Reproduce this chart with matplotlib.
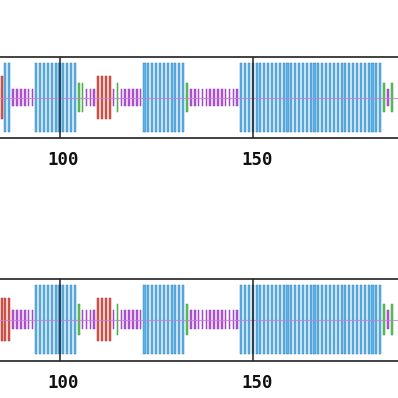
import matplotlib
matplotlib.use("Agg")
import matplotlib.pyplot as plt
import matplotlib.transforms as mtransforms

# residue numbers shown in the crop
residues = list(range(84, 187))

# secondary structure per residue (H helix, E strand, T turn, C coil)
ss_top = ("EE" "HH" "CCCCCC" "HHHHHHHHHHH" "TT" "CCC" "EEEE" "C" "T" "CCCCCC"
          "HHHHHHHHHHH" "T" "CCCCCCCCCCCCC" "HHHHHHHHHHHHHHHHHHHHHHHHHHHHHHHHHHHHH"
          "T" "C" "T")
ss_bottom = ("EEEE" "CCCCCC" "HHHHHHHHHHH" "T" "CCCC" "EEEE" "C" "T" "CCCCCC"
             "HHHHHHHHHHH" "T" "CCCCCCCCCCCCC" "HHHHHHHHHHHHHHHHHHHHHHHHHHHHHHHHHHHHH"
             "T" "C" "T")

tick_values = [100, 150]
tick_labels = ["100", "150"]

half_height = {"H": 0.84, "E": 0.53, "T": 0.37, "C": 0.22}
face = {"H": "#5cb3e6", "E": "#dc5548", "T": "#5cc45c", "C": "#b454d6"}
edge = {"H": "#3584c4", "E": "#b03a3a", "T": "#3c9a3c", "C": "#983cbc"}
width = {"H": 0.54, "E": 0.52, "T": 0.42, "C": 0.42}

W = H = 398
fig = plt.figure(figsize=(W / 100, H / 100), dpi=100)
fig.patch.set_facecolor("white")

x_left = 100 - 59.5 / 3.864
x_right = x_left + W / 3.864

panels = [(ss_top, 57, 138), (ss_bottom, 278.5, 360.5)]

for ss, ytop, ybot in panels:
    ax = fig.add_axes([0, 1 - ybot / H, 1, (ybot - ytop) / H])
    for t in "HETC":
        xs = [r for r, s in zip(residues, ss) if s == t]
        hh = half_height[t]
        ax.bar(xs, [2 * hh] * len(xs), bottom=-hh, width=width[t],
               color=face[t], edgecolor=edge[t], linewidth=0.35, zorder=2)
    ax.axhline(0, color="#c77ddd", lw=0.8, alpha=0.8, zorder=3)
    for v in tick_values:
        ax.axvline(v, color="#222222", lw=1.1, zorder=4)
    ax.set_xlim(x_left, x_right)
    ax.set_ylim(-1, 1)
    ax.set_xticks([])
    ax.set_yticks([])
    for s in ("left", "right"):
        ax.spines[s].set_visible(False)
    for s in ("top", "bottom"):
        ax.spines[s].set_color("#333333")
        ax.spines[s].set_linewidth(1.3)
    trans = mtransforms.blended_transform_factory(ax.transData, ax.transAxes) + \
        mtransforms.ScaledTranslation(4 / 100, -27 / 100, fig.dpi_scale_trans)
    for v, lab in zip(tick_values, tick_labels):
        ax.text(v, 0, lab, transform=trans, ha="center", va="baseline",
                family="DejaVu Sans Mono", fontweight="bold", fontsize=12.5,
                color="#111111", clip_on=False)

fig.savefig("out.png", dpi=100, facecolor="white")
